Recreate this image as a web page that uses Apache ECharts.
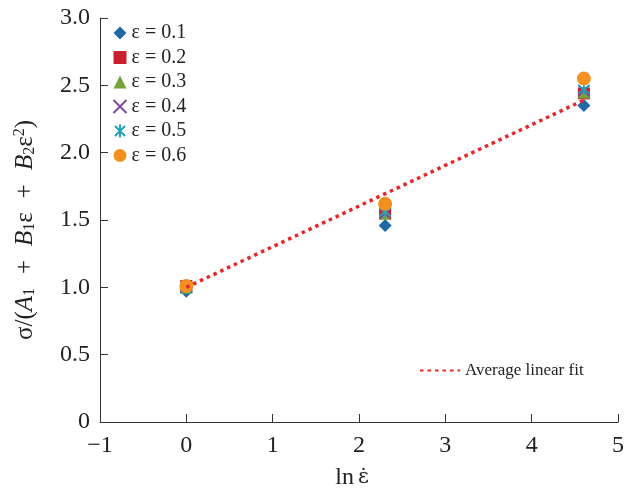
<!DOCTYPE html>
<html>
<head>
<meta charset="utf-8">
<script src="https://cdn.jsdelivr.net/npm/echarts@6/dist/echarts.min.js"></script>
<style>
  html, body { margin: 0; padding: 0; background: #fff; }
  #chart { width: 628px; height: 495px; }
</style>
</head>
<body>
<div id="chart"></div>
<script>
// ln(strain rate) positions
const lnRate = [0, 2.303, 4.605];

// normalised stress per strain level
const eps01 = [0.97, 1.46, 2.35];
const eps02 = [1.01, 1.55, 2.44];
const eps03 = [1.00, 1.55, 2.45];
const eps04 = [1.00, 1.55, 2.46];
const eps05 = [0.99, 1.56, 2.47];
const eps06 = [1.01, 1.62, 2.55];

// average linear fit end points
const fitX = [0, 4.605];
const fitY = [1.0, 2.39];

const font = '"Liberation Serif", "DejaVu Serif", serif';

const pairs = (xs, ys) => xs.map((x, i) => [x, ys[i]]);

const crossPath = 'path://M0,0L10,10M10,0L0,10';
const starPath = 'path://M0,0L10,10M10,0L0,10M5,-1.5L5,11.5';

const seriesDefs = [
  { name: 'ε = 0.1', data: eps01, symbol: 'diamond', size: 13, color: '#1f6aa5' },
  { name: 'ε = 0.2', data: eps02, symbol: 'rect', size: 12, color: '#c8202f' },
  { name: 'ε = 0.3', data: eps03, symbol: 'triangle', size: 13, color: '#77a33a' },
  { name: 'ε = 0.4', data: eps04, symbol: crossPath, size: 11, color: '#7d4a9a', stroke: true },
  { name: 'ε = 0.5', data: eps05, symbol: starPath, size: 11, color: '#1fa3b8', stroke: true },
  { name: 'ε = 0.6', data: eps06, symbol: 'circle', size: 14, color: '#f39020' }
];

const chart = echarts.init(document.getElementById('chart'));

const series = seriesDefs.map(d => ({
  name: d.name,
  type: 'scatter',
  data: pairs(lnRate, d.data),
  symbol: d.symbol,
  symbolSize: d.size,
  itemStyle: d.stroke
    ? { color: 'none', borderColor: d.color, borderWidth: 1.8, opacity: 1 }
    : { color: d.color, opacity: 1 },
  emphasis: { disabled: true }
}));

series.push({
  name: 'Average linear fit',
  type: 'line',
  data: pairs(fitX, fitY),
  symbol: 'none',
  lineStyle: { color: '#e8262a', width: 3.5, type: [3.5, 4] },
  itemStyle: { color: '#e8262a' },
  emphasis: { disabled: true },
  z: 10
});

chart.setOption({
  animation: false,
  grid: { left: 100, right: 10, top: 18, bottom: 71 },
  legend: [
    {
      data: seriesDefs.map(d => d.name),
      orient: 'vertical',
      left: 106,
      top: 18,
      itemGap: 4.5,
      itemWidth: 13,
      itemHeight: 13,
      textStyle: { fontFamily: font, fontSize: 20, color: '#222' }
    },
    {
      data: ['Average linear fit'],
      orient: 'horizontal',
      left: 414,
      top: 357,
      itemWidth: 40,
      itemHeight: 14,
      itemGap: 4,
      itemStyle: { opacity: 0 },
      textStyle: { fontFamily: font, fontSize: 17, color: '#222' }
    }
  ],
  xAxis: {
    type: 'value',
    min: -1,
    max: 5,
    interval: 1,
    name: '{n|ln}{e|ε\u0307}',
    nameLocation: 'middle',
    nameGap: 44,
    nameTextStyle: {
      fontFamily: font,
      fontSize: 24,
      color: '#222',
      padding: [0, 14, 0, 0],
      rich: {
        n: { fontFamily: font, fontSize: 24, color: '#222', padding: [0, 4, 0, 0] },
        e: { fontFamily: '"DejaVu Serif", serif', fontSize: 21, color: '#222' }
      }
    },
    axisLine: { onZero: false, lineStyle: { color: '#333', width: 1 } },
    axisTick: { inside: true, length: 8, lineStyle: { color: '#333' } },
    axisLabel: {
      fontFamily: font,
      fontSize: 24,
      color: '#222',
      margin: 12,
      formatter: v => (v < 0 ? '\u2212' + Math.abs(v) : String(v))
    },
    splitLine: { show: false }
  },
  yAxis: {
    type: 'value',
    min: 0,
    max: 3,
    interval: 0.5,
    name: '{n|σ/(}{i|A}{s|1}{o|+}{i|B}{s|1}{n|ε}{o|+}{i|B}{s|2}{n|ε}{p|2}{n|)}',
    nameLocation: 'middle',
    nameGap: 62,
    nameRotate: 90,
    nameTextStyle: {
      fontFamily: font,
      fontSize: 25,
      color: '#222',
      padding: [0, 20, 0, 0],
      rich: {
        n: { fontFamily: font, fontSize: 25, color: '#222' },
        o: { fontFamily: font, fontSize: 25, color: '#222', padding: [0, 14, 0, 14] },
        i: { fontFamily: font, fontSize: 25, fontStyle: 'italic', color: '#222' },
        s: { fontFamily: font, fontSize: 16, color: '#222', verticalAlign: 'bottom', padding: [10, 0, 0, 0] },
        p: { fontFamily: font, fontSize: 16, color: '#222', verticalAlign: 'top', padding: [0, 0, 10, 0] }
      }
    },
    axisLine: { show: true, onZero: false, lineStyle: { color: '#333', width: 1 } },
    axisTick: { show: true, inside: true, length: 8, lineStyle: { color: '#333' } },
    axisLabel: {
      fontFamily: font,
      fontSize: 24,
      color: '#222',
      margin: 10,
      formatter: v => (v === 0 ? '0' : v.toFixed(1))
    },
    splitLine: { show: false }
  },
  series: series
});
</script>
</body>
</html>
